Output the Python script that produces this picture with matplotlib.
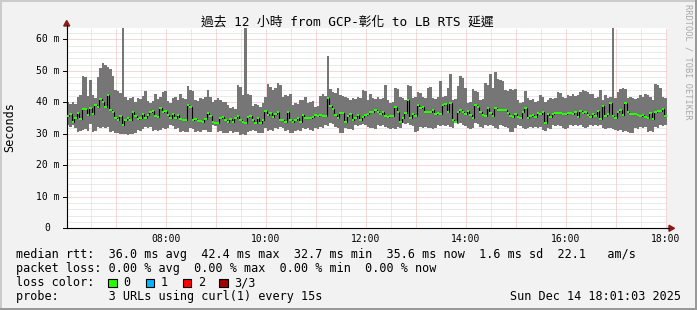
import numpy as np
import matplotlib
matplotlib.use('Agg')
import matplotlib.pyplot as plt
from matplotlib.patches import Rectangle, Polygon
from matplotlib.lines import Line2D
from matplotlib import transforms

W, H = 697, 310

# ---- data (3-minute consolidated steps, 06:01 -> 18:01), values in ms ----
start_hour = 6 + 1 / 60
bar_hours = 0.05

rtt_max = [
    40.0, 39.5, 40.2, 39.6, 41.8, 42.4, 48.3, 47.9, 42.0, 47.1, 42.3, 41.5, 48.0, 51.0, 52.5, 52.0, 51.3, 50.6, 48.5, 44.0,
    43.5, 43.0, 63.6, 41.6, 40.9, 41.3, 41.8, 40.2, 41.5, 41.1, 41.9, 43.7, 40.5, 39.9, 40.4, 42.8, 41.0, 41.6, 43.3, 43.7,
    40.4, 39.9, 41.3, 41.7, 40.9, 42.8, 41.5, 41.0, 45.2, 43.9, 43.5, 40.7, 40.3, 41.5, 41.0, 41.6, 43.9, 41.8, 40.2, 40.6,
    41.5, 40.7, 40.2, 40.0, 39.0, 38.1, 38.4, 38.0, 45.5, 45.0, 42.3, 63.6, 42.8, 42.4, 38.8, 39.5, 39.2, 38.6, 39.7, 41.8,
    45.8, 45.0, 43.9, 44.7, 46.0, 45.6, 41.8, 42.3, 42.0, 42.6, 39.2, 39.7, 39.4, 40.7, 40.9, 41.6, 39.7, 40.2, 40.5, 38.6,
    38.9, 42.0, 42.5, 42.0, 54.7, 44.1, 43.3, 43.0, 44.7, 42.3, 42.0, 41.8, 41.5, 40.7, 41.3, 41.0, 41.6, 41.3, 43.9, 43.5,
    40.7, 42.8, 41.3, 41.0, 41.6, 41.2, 41.4, 45.5, 40.7, 39.7, 40.0, 44.7, 44.3, 41.8, 41.5, 40.7, 45.5, 45.1, 41.3, 41.7,
    43.3, 43.0, 41.8, 41.5, 44.5, 45.0, 41.3, 41.0, 41.8, 46.8, 41.8, 42.1, 44.7, 49.0, 40.7, 41.0, 45.2, 48.3, 47.8, 44.7,
    39.7, 40.0, 44.1, 43.7, 43.3, 40.7, 41.0, 46.1, 45.6, 49.0, 44.7, 49.7, 47.4, 47.0, 46.8, 44.0, 43.6, 44.3, 43.8, 44.2,
    40.7, 39.7, 40.0, 43.5, 41.3, 40.7, 41.0, 40.2, 40.5, 42.3, 41.8, 40.2, 40.7, 41.3, 41.0, 41.5, 43.3, 43.0, 41.8, 41.5,
    42.3, 42.0, 42.8, 42.0, 42.3, 43.3, 43.9, 43.5, 43.3, 42.8, 42.5, 41.3, 41.8, 44.0, 40.7, 42.3, 41.3, 41.6, 63.6, 41.3,
    43.3, 44.2, 44.5, 44.1, 41.3, 41.8, 41.3, 41.0, 41.5, 42.3, 41.8, 42.5, 42.2, 41.6, 40.7, 45.8, 45.4, 44.5, 41.8, 41.5,
]

rtt_min = [
    32.8, 32.3, 32.8, 32.0, 30.5, 30.8, 31.2, 31.5, 31.0, 33.0, 30.7, 30.9, 32.3, 32.0, 32.3, 31.8, 32.3, 30.7, 31.0, 30.2,
    30.4, 29.8, 30.0, 29.8, 29.6, 30.0, 29.8, 30.2, 31.2, 31.0, 31.4, 32.3, 32.0, 32.3, 30.9, 31.2, 30.9, 31.1, 31.7, 31.5,
    31.8, 32.8, 32.5, 31.5, 31.7, 30.7, 31.0, 30.7, 30.5, 31.7, 31.5, 30.5, 30.8, 30.5, 31.1, 31.2, 30.5, 30.7, 32.8, 32.5,
    30.7, 30.9, 30.4, 30.2, 30.3, 30.9, 30.2, 30.5, 30.7, 29.6, 29.8, 29.6, 30.7, 30.9, 31.2, 31.0, 30.2, 30.4, 30.2, 31.7,
    30.9, 31.1, 30.9, 31.7, 31.5, 32.3, 32.0, 30.9, 31.1, 30.2, 30.4, 30.9, 31.1, 30.9, 31.7, 31.5, 31.7, 31.2, 31.0, 31.7,
    31.5, 32.3, 32.0, 32.8, 32.5, 33.3, 33.0, 32.3, 32.0, 30.2, 30.4, 31.7, 31.5, 31.5, 31.3, 32.8, 32.5, 32.8, 33.0, 32.8,
    32.3, 32.0, 31.7, 31.5, 32.8, 32.5, 32.8, 32.3, 32.0, 31.5, 31.7, 31.5, 32.3, 32.0, 33.3, 33.0, 33.3, 32.8, 32.6, 30.7,
    30.9, 32.3, 32.0, 32.3, 32.0, 31.7, 31.5, 31.7, 32.8, 32.5, 32.8, 32.6, 32.8, 32.3, 32.0, 33.3, 33.0, 33.3, 32.8, 32.6,
    31.7, 31.5, 31.7, 33.3, 33.0, 32.3, 32.0, 32.8, 32.5, 32.8, 32.6, 31.7, 31.5, 32.8, 32.5, 32.3, 32.0, 30.5, 30.7, 31.7,
    32.8, 32.5, 31.7, 31.5, 31.7, 32.3, 32.0, 32.3, 32.0, 32.3, 31.2, 31.0, 31.7, 31.5, 32.8, 32.5, 32.8, 32.6, 31.7, 31.5,
    31.7, 32.8, 32.5, 32.8, 32.6, 32.8, 32.3, 32.0, 32.3, 32.8, 32.5, 32.8, 32.6, 32.8, 31.7, 31.5, 31.7, 31.7, 31.5, 31.2,
    31.0, 31.2, 30.7, 30.9, 30.7, 30.2, 30.4, 31.7, 31.5, 32.3, 32.0, 32.3, 30.7, 30.9, 30.7, 32.3, 32.0, 32.8, 32.6, 32.8,
]

rtt_median = [
    35.8, 36.2, 33.9, 35.1, 36.5, 34.6, 37.9, 37.9, 36.0, 38.1, 36.2, 39.2, 38.6, 41.1, 40.0, 38.6, 42.4, 37.6, 36.8, 35.1,
    34.4, 35.8, 32.7, 34.4, 34.9, 34.4, 36.8, 35.8, 34.7, 34.9, 36.2, 35.1, 36.0, 36.8, 37.2, 35.8, 35.4, 38.3, 36.8, 37.2,
    36.0, 35.1, 36.2, 34.9, 36.0, 34.7, 34.4, 34.4, 39.2, 38.6, 34.4, 34.6, 34.1, 34.1, 33.7, 34.7, 36.5, 35.8, 33.9, 33.3,
    33.3, 35.1, 35.4, 34.4, 33.7, 34.6, 33.7, 35.1, 35.8, 34.4, 33.9, 33.3, 35.4, 35.8, 34.4, 33.3, 35.1, 33.3, 34.4, 37.2,
    36.0, 36.5, 35.4, 36.2, 37.0, 34.4, 34.4, 33.9, 37.0, 34.4, 33.7, 34.4, 34.9, 33.9, 36.0, 34.9, 35.1, 35.1, 35.4, 36.0,
    35.8, 36.0, 35.8, 35.8, 41.3, 38.9, 37.9, 36.0, 34.9, 36.5, 36.5, 33.9, 35.8, 36.2, 34.4, 34.9, 36.0, 34.4, 35.4, 36.0,
    36.2, 37.0, 36.8, 37.6, 37.0, 36.2, 36.8, 35.8, 35.4, 35.8, 35.8, 38.6, 36.8, 33.9, 35.1, 36.5, 40.7, 34.9, 36.2, 35.8,
    39.2, 38.3, 38.6, 36.8, 36.8, 36.8, 37.6, 36.2, 36.5, 36.2, 39.2, 39.4, 36.8, 39.7, 34.4, 33.7, 36.8, 37.6, 36.8, 36.2,
    37.2, 36.0, 35.1, 39.2, 38.6, 36.8, 36.0, 35.8, 38.1, 36.5, 35.8, 38.3, 37.6, 37.6, 37.6, 37.6, 36.5, 35.8, 35.4, 36.2,
    35.4, 35.1, 36.8, 38.3, 35.1, 35.8, 36.0, 35.4, 36.5, 36.2, 37.0, 33.3, 36.2, 35.4, 36.2, 36.5, 36.5, 36.5, 36.2, 36.2,
    36.5, 36.5, 36.2, 36.8, 35.4, 37.2, 36.5, 36.8, 36.0, 35.4, 36.2, 35.8, 37.2, 34.7, 38.9, 35.8, 36.2, 39.7, 35.8, 34.9,
    36.8, 37.6, 36.0, 39.7, 36.8, 36.2, 36.2, 36.2, 36.0, 35.8, 36.0, 35.4, 34.9, 36.5, 34.7, 36.8, 37.2, 37.2, 37.9, 35.6,
]

x_tick_hours = [8, 10, 12, 14, 16, 18]
x_tick_labels = ['08:00', '10:00', '12:00', '14:00', '16:00', '18:00']
y_ticks = [0, 10, 20, 30, 40, 50, 60]
y_tick_labels = ['0', '10 m', '20 m', '30 m', '40 m', '50 m', '60 m']

title = '過去 12 小時 from GCP-彰化 to LB RTS 延遲'
y_label = 'Seconds'
legend_rows = [
    'median rtt:  36.0 ms avg  42.4 ms max  32.7 ms min  35.6 ms now  1.6 ms sd  22.1   am/s',
    'packet loss: 0.00 % avg  0.00 % max  0.00 % min  0.00 % now',
    'loss color:',
    'probe:       3 URLs using curl(1) every 15s',
]
loss_labels = ['0', '1', '2', '3/3']
loss_colors = ['#26ff00', '#00b8ff', '#ff0000', '#a00000']
timestamp = 'Sun Dec 14 18:01:03 2025'
watermark = 'RRDTOOL / TOBI OETIKER'

assert len(rtt_max) == len(rtt_min) == len(rtt_median) == 240

# ---- figure ----
MONO = 'DejaVu Sans Mono'
fig = plt.figure(figsize=(W / 100, H / 100), dpi=100, facecolor='#f2f2f2')


def fx(x):
    return x / W


def fy(y):
    return 1 - y / H


ax_l, ax_r, ax_t, ax_b = 66.7, 666.7, 27.7, 228.3
ax = fig.add_axes([fx(ax_l), fy(ax_b), (ax_r - ax_l) / W, (ax_b - ax_t) / H])
ax.set_facecolor('white')

edges = start_hour + bar_hours * np.arange(len(rtt_median) + 1)
ax.set_xlim(start_hour, start_hour + 12)
ax.set_ylim(0, 63.7)

med = np.array(rtt_median)
ax.stairs(rtt_max, edges, baseline=rtt_min, fill=True, color='#767676', lw=0, zorder=2)
ax.stairs(med, edges, baseline=None, color='black', lw=0.8, zorder=3)
ax.stairs(med + 0.32, edges, baseline=med - 0.32, fill=True, color='#26ff00', lw=0, zorder=4)

# grid (fine dotted)
ax.set_xticks(np.arange(7, 19, 1))
ax.set_xticks(np.arange(6.5, 18.5, 1), minor=True)
ax.set_yticks(np.arange(10, 61, 10))
ax.set_yticks(np.arange(2, 64, 2), minor=True)
ax.grid(which='major', color='#eeb2b2', ls=(0, (1, 1)), lw=0.72)
ax.grid(which='minor', color='#d6d6d6', ls=(0, (1, 1)), lw=0.72)
ax.set_axisbelow(True)
ax.tick_params(which='both', length=0, labelbottom=False, labelleft=False)
for s in ('top', 'right'):
    ax.spines[s].set_visible(False)
for s in ('left', 'bottom'):
    ax.spines[s].set_color('black')
    ax.spines[s].set_linewidth(0.8)

# tick labels
tr_y = transforms.blended_transform_factory(fig.transFigure, ax.transData)
tr_x = transforms.blended_transform_factory(ax.transData, fig.transFigure)
for v, lab in zip(y_ticks, y_tick_labels):
    ax.text(fx(47.5), v, lab, transform=tr_y, ha='center', va='center',
            fontsize=7, family=MONO, color='black')
    ax.plot([fx(62.7), fx(ax_l)], [v, v], transform=tr_y, color='black', lw=0.7,
            clip_on=False, zorder=5)
for h, lab in zip(x_tick_hours, x_tick_labels):
    ax.text(h, fy(241.5), lab, transform=tr_x, ha='center', va='baseline',
            fontsize=7, family=MONO, color='black')

# axis extensions and arrows
fig.add_artist(Line2D([fx(ax_r), fx(669)], [fy(ax_b), fy(ax_b)], color='black', lw=0.8))
fig.add_artist(Line2D([fx(ax_l), fx(ax_l)], [fy(ax_t), fy(25)], color='black', lw=0.8))
arrow_col = '#8b1a1a'
fig.add_artist(Polygon([(fx(ax_l), fy(20.5)), (fx(ax_l - 3), fy(26)), (fx(ax_l + 3), fy(26))],
                       closed=True, color=arrow_col, transform=fig.transFigure))
fig.add_artist(Polygon([(fx(674.5), fy(ax_b)), (fx(669), fy(ax_b - 3)), (fx(669), fy(ax_b + 3))],
                       closed=True, color=arrow_col, transform=fig.transFigure))

# title / labels
fig.text(fx(347.5), fy(26), title, ha='center', va='baseline', fontsize=9.2,
         family=[MONO, 'Noto Sans CJK TC'], color='black')
fig.text(fx(10), fy(127.5), y_label, ha='center', va='center', rotation=90,
         fontsize=8.5, family=MONO, color='black')
fig.text(fx(688), fy(4), watermark, ha='center', va='top', rotation=270,
         fontsize=6.2, family=MONO, color='#a8a8a8')

# legend rows
baselines = [258.3, 272.3, 286.5, 300.3]
for txt, yb in zip(legend_rows, baselines):
    fig.text(fx(16), fy(yb), txt, ha='left', va='baseline', fontsize=8.5,
             family=MONO, color='black')
box_x = [108.3, 145.7, 182.7, 219.3]
for bx, col, lab in zip(box_x, loss_colors, loss_labels):
    fig.add_artist(Rectangle((fx(bx), fy(287.3)), 8.4 / W, 8.2 / H, facecolor=col,
                             edgecolor='black', lw=0.8, transform=fig.transFigure))
    fig.text(fx(bx + 15), fy(286.5), lab, ha='left', va='baseline', fontsize=8.5,
             family=MONO, color='black')
fig.text(fx(680.5), fy(300.3), timestamp, ha='right', va='baseline', fontsize=8.5,
         family=MONO, color='black')

# frame shading
fig.add_artist(Rectangle((0, fy(2)), 1, 2 / H, color='#cbcbcb', lw=0, transform=fig.transFigure))
fig.add_artist(Rectangle((0, 0), 2 / W, 1, color='#cbcbcb', lw=0, transform=fig.transFigure))
fig.add_artist(Rectangle((0, 0), 1, 2.5 / H, color='#999999', lw=0, transform=fig.transFigure))
fig.add_artist(Rectangle((fx(W - 2.5), 0), 2.5 / W, 1, color='#999999', lw=0, transform=fig.transFigure))

fig.savefig('out.png', dpi=100, facecolor=fig.get_facecolor())
